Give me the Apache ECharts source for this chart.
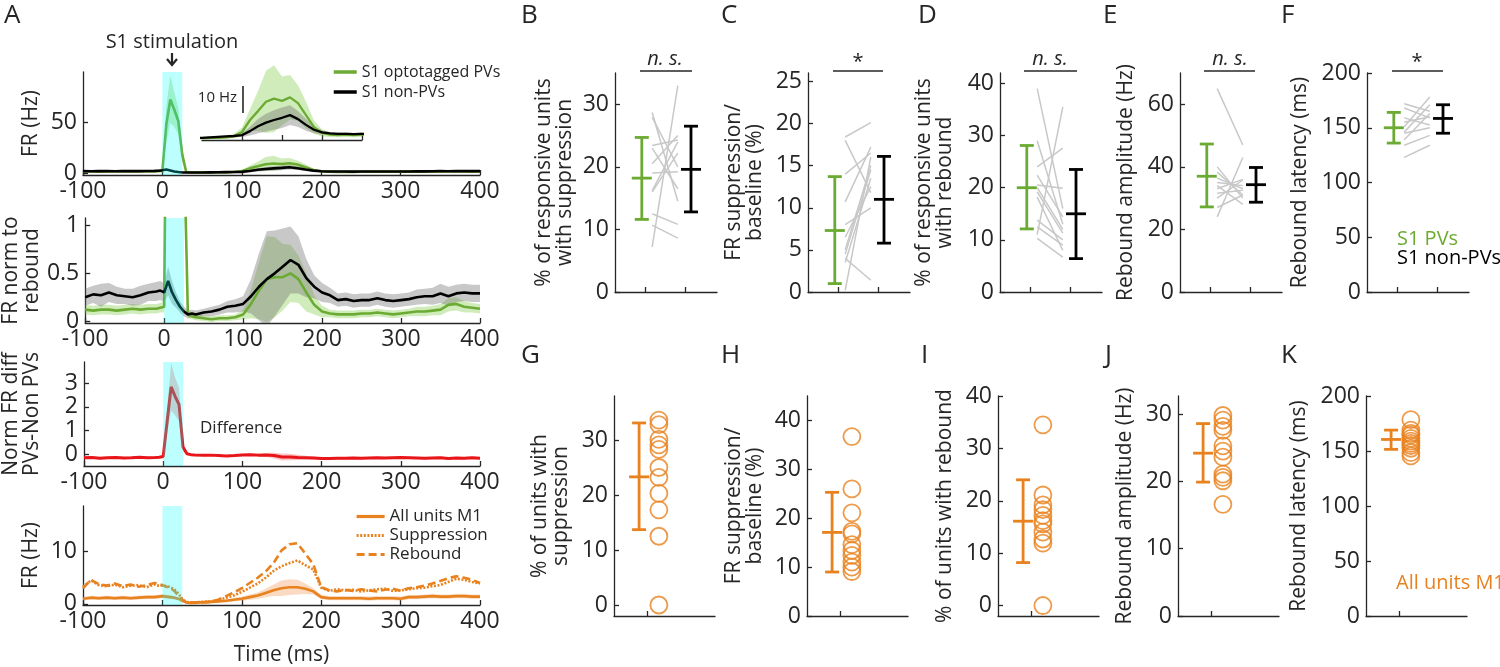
<!DOCTYPE html>
<html><head><meta charset="utf-8">
<script src="https://cdn.jsdelivr.net/npm/echarts@6/dist/echarts.min.js"></script>
<style>html,body{margin:0;padding:0;background:#fff}#c{width:1500px;height:667px}</style>
</head><body><div id="c"></div>
<script>
// ---------------- DATA ----------------
const T = [-100,-90,-80,-70,-60,-50,-40,-30,-20,-10,
  -5,0,5,10,15,20,25,30,35,
  40,50,60,70,80,90,100,110,120,130,140,150,160,170,180,190,200,210,220,230,240,250,260,270,280,290,300,310,320,330,340,350,360,370,380,390,400];
const STIM = [0, 25];

// A1: firing rate (Hz)
const pvFR = [1.4,1.5,1.3,1.6,1.5,1.4,1.6,1.5,1.7,1.6,
  1.8,2.0,48,72,62,51,18,1.0,0.5,
  0.4,0.4,0.5,0.5,0.6,0.9,1.8,4.5,6.5,8.6,9.3,8.8,9.6,8.3,5.6,2.9,1.6,
  1.2,1.1,1.2,1.1,1.2,1.3,1.2,1.3,1.2,1.3,1.4,1.3,1.2,1.3,1.4,1.5,1.6,1.4,1.3,1.4];
const pvFRsem = [0.5,0.5,0.5,0.5,0.5,0.5,0.5,0.5,0.5,0.5,
  0.6,0.8,18,23,17,13,7,0.5,0.3,
  0.3,0.3,0.3,0.3,0.3,0.5,1.0,2.5,4.5,7.0,7.5,5.5,5.0,4.0,3.0,1.5,0.8,
  0.5,0.5,0.5,0.5,0.5,0.5,0.5,0.5,0.5,0.5,0.5,0.5,0.5,0.5,0.5,0.5,0.5,0.5,0.5,0.5];
const npFR = [1.8,1.7,1.9,1.8,1.7,1.8,1.9,1.8,1.9,2.0,
  2.1,2.6,3.4,2.4,1.5,0.9,0.6,0.4,0.4,
  0.4,0.5,0.6,0.7,0.8,0.9,1.1,2.0,3.1,3.9,4.5,5.0,5.6,4.7,3.4,2.3,1.7,
  1.5,1.4,1.4,1.3,1.4,1.4,1.5,1.4,1.4,1.4,1.5,1.6,1.6,1.7,1.8,1.7,1.8,1.9,1.8,1.8];
const npFRsem = [0.3,0.3,0.3,0.3,0.3,0.3,0.3,0.3,0.3,0.3,
  0.3,0.4,0.6,0.5,0.3,0.2,0.2,0.1,0.1,
  0.1,0.1,0.1,0.2,0.2,0.2,0.4,1.0,1.6,2.0,2.2,2.3,2.2,1.8,1.3,0.8,0.5,
  0.3,0.3,0.3,0.3,0.3,0.3,0.3,0.3,0.3,0.3,0.3,0.3,0.3,0.3,0.3,0.3,0.3,0.3,0.3,0.3];

// A2: FR normalised to rebound
const pvNorm = [0.12,0.11,0.12,0.12,0.11,0.12,0.13,0.12,0.13,0.13,
  0.14,0.15,5.0,7.6,6.5,5.3,1.9,0.07,0.05,
  0.04,0.03,0.02,0.03,0.03,0.04,0.07,0.18,0.32,0.44,0.46,0.46,0.50,0.44,0.30,0.17,0.10,
  0.08,0.07,0.07,0.07,0.08,0.08,0.09,0.08,0.07,0.08,0.09,0.10,0.10,0.11,0.12,0.17,0.18,0.15,0.14,0.13];
const pvNormSem = [0.05,0.05,0.05,0.05,0.05,0.05,0.05,0.05,0.05,0.05,
  0.05,0.06,1.5,2.0,1.8,1.5,0.6,0.04,0.03,
  0.03,0.03,0.03,0.03,0.03,0.03,0.05,0.15,0.30,0.45,0.42,0.35,0.30,0.25,0.20,0.10,0.06,
  0.04,0.04,0.04,0.04,0.04,0.04,0.04,0.04,0.04,0.04,0.04,0.05,0.05,0.05,0.06,0.07,0.07,0.06,0.05,0.05];
const npNorm = [0.25,0.28,0.27,0.30,0.27,0.26,0.25,0.27,0.30,0.31,
  0.32,0.30,0.42,0.30,0.22,0.15,0.10,0.07,0.08,
  0.07,0.09,0.10,0.12,0.15,0.16,0.18,0.26,0.36,0.44,0.50,0.57,0.64,0.59,0.45,0.36,0.30,
  0.27,0.22,0.23,0.21,0.22,0.22,0.24,0.22,0.21,0.22,0.23,0.25,0.26,0.26,0.29,0.26,0.29,0.30,0.29,0.29];
const npNormSem = [0.09,0.09,0.12,0.10,0.09,0.08,0.09,0.10,0.09,0.10,
  0.10,0.10,0.15,0.12,0.08,0.06,0.05,0.04,0.04,
  0.04,0.04,0.05,0.05,0.06,0.07,0.08,0.18,0.35,0.50,0.45,0.40,0.35,0.30,0.20,0.12,0.10,
  0.08,0.07,0.07,0.07,0.07,0.07,0.07,0.07,0.07,0.07,0.07,0.08,0.08,0.09,0.10,0.10,0.09,0.09,0.09,0.09];

// A3: normalised difference PVs - non PVs
const diffNorm = [-0.15,-0.14,-0.17,-0.15,-0.14,-0.16,-0.15,-0.13,-0.15,-0.14,
  -0.13,-0.10,1.4,2.85,2.45,2.1,0.3,0.02,-0.02,
  -0.03,-0.04,-0.04,-0.06,-0.08,-0.06,-0.03,-0.02,-0.04,-0.03,-0.06,-0.12,-0.12,-0.14,-0.15,-0.16,-0.18,
  -0.18,-0.17,-0.17,-0.16,-0.17,-0.16,-0.15,-0.16,-0.15,-0.14,-0.15,-0.16,-0.17,-0.16,-0.15,-0.18,-0.16,-0.17,-0.15,-0.17];
const diffSem = [0.05,0.05,0.05,0.05,0.05,0.05,0.05,0.05,0.05,0.05,
  0.05,0.06,0.5,1.0,0.8,0.7,0.2,0.05,0.04,
  0.04,0.04,0.04,0.04,0.04,0.05,0.05,0.05,0.06,0.08,0.12,0.15,0.14,0.12,0.08,0.06,0.05,
  0.05,0.05,0.05,0.05,0.05,0.05,0.05,0.05,0.05,0.05,0.05,0.05,0.05,0.05,0.05,0.05,0.05,0.05,0.05,0.05];

// A4: M1 firing rates (Hz)
const m1All = [1.0,1.2,1.1,1.2,1.1,1.2,1.1,1.2,1.3,1.3,
  1.4,1.5,1.4,1.3,1.2,1.0,0.6,0.3,0.2,
  0.3,0.3,0.4,0.5,0.6,0.8,1.0,1.3,1.6,2.1,2.6,3.0,3.2,3.2,2.9,2.4,1.3,
  1.1,1.1,1.1,1.1,1.1,1.0,1.1,1.1,1.1,1.0,1.3,1.3,1.4,1.5,1.4,1.4,1.5,1.5,1.4,1.4];
const m1AllSem = [0.35,0.35,0.35,0.35,0.35,0.35,0.35,0.35,0.35,0.35,
  0.35,0.35,0.35,0.35,0.35,0.3,0.25,0.2,0.2,
  0.2,0.2,0.25,0.3,0.3,0.35,0.4,0.5,0.6,0.8,1.1,1.5,1.5,1.4,1.0,0.6,0.4,
  0.4,0.4,0.4,0.4,0.4,0.4,0.4,0.4,0.4,0.4,0.4,0.4,0.4,0.4,0.4,0.4,0.4,0.4,0.4,0.4];
const m1Supp = [3.3,4.5,3.6,3.4,3.7,3.2,3.5,3.6,3.2,3.7,
  3.5,3.5,3.4,3.2,2.8,2.0,1.0,0.4,0.3,
  0.3,0.4,0.5,0.7,1.2,1.6,2.3,3.1,3.9,5.0,6.3,7.2,7.8,8.3,7.4,6.6,3.1,
  2.5,2.8,2.6,2.7,2.4,2.6,2.8,2.9,2.5,2.6,2.8,3.0,3.1,3.4,3.6,4.2,4.8,4.6,4.2,3.9];
const m1Reb = [3.0,4.6,3.8,3.5,3.9,3.4,3.7,3.3,3.6,4.0,
  3.8,3.6,3.3,3.0,2.5,1.6,0.8,0.3,0.2,
  0.2,0.3,0.4,0.8,1.5,2.2,3.0,4.0,5.0,6.2,7.8,10.2,11.4,11.6,9.6,7.6,3.2,
  2.6,2.4,2.7,2.5,2.8,2.6,2.4,2.7,2.9,2.5,3.0,3.2,3.5,3.9,4.4,4.9,5.3,5.0,4.6,4.0];

// B–F: [mean, lower, upper] for S1 PVs and S1 non-PVs, plus per-animal pairs
const B_pv = [18.2, 11.6, 24.7], B_np = [19.6, 12.8, 26.5];
const B_left  = [7.2, 28.7, 27.9, 23.4, 20.5, 19.0, 16.0, 12.5, 10.7, 16.2, 23.0];
const B_right = [33.0, 14.5, 20.0, 24.3, 25.0, 19.2, 22.2, 10.8, 8.6, 24.0, 16.5];
const C_pv = [7.3, 1.0, 13.7], C_np = [11.0, 5.8, 16.1];
const C_left  = [18.4, 18.0, 14.0, 10.7, 5.0, 4.5, 3.5, 6.5, 0.2, 4.0, 8.0];
const C_right = [20.1, 11.8, 16.5, 17.2, 15.0, 14.5, 13.5, 12.5, 16.0, 1.4, 10.0];
const D_pv = [20.0, 12.1, 28.1], D_np = [15.0, 6.4, 23.5];
const D_left  = [39.0, 11.0, 29.0, 24.0, 22.4, 20.5, 19.2, 18.2, 13.8, 12.5, 10.3, 20.0];
const D_right = [16.0, 35.5, 13.0, 27.6, 14.4, 19.9, 11.3, 8.0, 10.0, 9.0, 6.7, 12.0];
const E_pv = [37.0, 27.2, 47.3], E_np = [34.3, 28.7, 39.8];
const E_left  = [65, 24, 40, 38.3, 36.4, 35, 34, 33, 31.6, 30, 27];
const E_right = [47, 43, 30, 31, 33, 34, 28, 36, 32.5, 35.8, 31];
const F_pv = [150, 136, 164], F_np = [158.5, 145, 171];
const F_left  = [123, 134, 139, 146, 151, 159, 168, 172, 155, 145];
const F_right = [134, 143, 163, 171, 178, 152.5, 159, 165, 160, 150];

// G–K: M1 all units [mean, lower, upper] and per-animal values
const G_err = [23.3, 13.7, 33.1];
const G_vals = [33.6, 32.8, 30.1, 29.1, 28.3, 25.0, 23.2, 20.3, 17.3, 12.5, 0];
const H_err = [17.1, 9.0, 25.3];
const H_vals = [36.7, 26.0, 21.1, 17.3, 16.8, 14.6, 13.4, 12.4, 11.0, 10.0, 9.1];
const I_err = [16.1, 8.2, 24.0];
const I_vals = [34.5, 21.1, 19.2, 18.3, 17.2, 16.2, 15.6, 14.0, 12.7, 11.9, 0];
const J_err = [24.2, 19.9, 28.6];
const J_vals = [29.8, 29.1, 28.2, 27.6, 25.3, 24.5, 23.6, 21.1, 20.6, 20.1, 16.6];
const K_err = [160.5, 151.5, 169];
const K_vals = [178.5, 169, 166, 164.5, 161.5, 159, 157, 155, 152.5, 148.5, 145.5];

// tick labels
const A_yTicks = [[0, 50], [0, 0.5, 1], [0, 1, 2, 3], [0, 10]];
const top_yTicks = [[0,10,20,30],[0,5,10,15,20,25],[0,10,20,30,40],[0,20,40,60],[0,50,100,150,200]];
const bot_yTicks = [[0,10,20,30],[0,10,20,30,40],[0,10,20,30,40],[0,10,20,30],[0,50,100,150,200]];

// ---------------- STYLE ----------------
const FONT = 'Open Sans';
const INK = '#262626';
const GREEN = '#6cab33', BLACK = '#000000', RED = '#e8161b', ORANGE = '#e8821e';
const GREEN_BAND = 'rgba(120,200,60,0.35)', GREY_BAND = 'rgba(110,110,110,0.38)';
const RED_BAND = 'rgba(240,70,70,0.30)', ORANGE_BAND = 'rgba(240,150,80,0.35)';
const CYAN = 'rgba(0,255,255,0.26)';
const PV_X = 0.92, NP_X = 2.15, PAIR_X0 = 1.18, PAIR_X1 = 1.82, ERR_X = 0.76, CIRC_X = 1.36;
const TICK_FS = 23;

const grids = [
  {left:83, top:72, width:397, height:103},
  {left:83, top:218, width:397, height:105},
  {left:83, top:362, width:397, height:104},
  {left:83, top:506, width:397, height:102},
  {left:202, top:60, width:160, height:80}
];
[615,808,1000,1180,1367].forEach(l => grids.push({left:l, top:73, width:102, height:219}));
[614,807,998,1178,1366].forEach(l => grids.push({left:l, top:396, width:101, height:220}));

const axLine = {show:true, onZero:false, lineStyle:{color:INK, width:1.3}};
const tick = vals => ({show:true, inside:true, length:5, lineStyle:{color:INK, width:1.3}, customValues: vals});
const lab = vals => ({show:true, fontFamily:FONT, fontSize:TICK_FS, color:INK, margin:6, customValues: vals});
const nameStyle = {fontFamily:FONT, fontSize:21, color:INK, lineHeight:21};

const xAxes = [], yAxes = [];
// A1..A4
const A_yRange = [[-2, 99], [-0.02, 1.08], [-0.5, 3.9], [-0.2, 18.7]];
const A_names = ['FR (Hz)', 'FR norm to\nrebound', 'Norm FR diff\nPVs-Non PVs', 'FR (Hz)'];
for (let i = 0; i < 4; i++) {
  xAxes.push({gridIndex:i, type:'value', min:-100, max:400, interval:100, axisLine:axLine,
    axisTick:{show:true, inside:true, length:5, lineStyle:{color:INK, width:1.3}},
    axisLabel:{show:true, fontFamily:FONT, fontSize:TICK_FS, color:INK, margin:5},
    splitLine:{show:false},
    name: i === 3 ? 'Time (ms)' : '', nameLocation:'middle', nameGap:40, nameTextStyle:nameStyle});
  yAxes.push({gridIndex:i, type:'value', min:A_yRange[i][0], max:A_yRange[i][1], axisLine:axLine,
    axisTick:tick(A_yTicks[i]), axisLabel:lab(A_yTicks[i]), splitLine:{show:false},
    name:A_names[i], nameLocation:'middle', nameRotate:90, nameGap:41, nameTextStyle:nameStyle});
}
// inset
xAxes.push({gridIndex:4, type:'value', min:50, max:250, axisLine:axLine,
  axisTick:{show:true, inside:true, length:5, lineStyle:{color:INK, width:1.3}, customValues:[100,150,200,250]},
  axisLabel:{show:false}, splitLine:{show:false}});
yAxes.push({gridIndex:4, type:'value', min:0, max:18, show:false});
// B..F
const top_yRange = [[0,35],[0,26],[0,42],[0,70],[0,200]];
const top_names = ['% of responsive units\nwith suppression','FR suppression/\nbaseline (%)','% of responsive units\nwith rebound','Rebound amplitude (Hz)','Rebound latency (ms)'];
const top_gaps = [39, 42, 44, 43, 56];
for (let i = 0; i < 5; i++) {
  xAxes.push({gridIndex:5+i, type:'value', min:0.25, max:2.8, axisLine:axLine, axisTick:tick([1,2]),
    axisLabel:{show:false}, splitLine:{show:false}});
  yAxes.push({gridIndex:5+i, type:'value', min:top_yRange[i][0], max:top_yRange[i][1], axisLine:axLine,
    axisTick:tick(top_yTicks[i]), axisLabel:lab(top_yTicks[i]), splitLine:{show:false},
    name:top_names[i], nameLocation:'middle', nameRotate:90, nameGap:top_gaps[i], nameTextStyle:nameStyle});
}
// G..K
const bot_yRange = [[-2,38],[0,45],[-2,40],[0,32.7],[0,200]];
const bot_names = ['% of units with\nsuppression','FR suppression/\nbaseline (%)','% of units with rebound','Rebound amplitude (Hz)','Rebound latency (ms)'];
const bot_gaps = [42, 41, 42, 42, 56];
for (let i = 0; i < 5; i++) {
  xAxes.push({gridIndex:10+i, type:'value', min:0, max:3.06, axisLine:axLine, axisTick:tick([1]),
    axisLabel:{show:false}, splitLine:{show:false}});
  yAxes.push({gridIndex:10+i, type:'value', min:bot_yRange[i][0], max:bot_yRange[i][1], axisLine:axLine,
    axisTick:tick(bot_yTicks[i]), axisLabel:lab(bot_yTicks[i]), splitLine:{show:false},
    name:bot_names[i], nameLocation:'middle', nameRotate:90, nameGap:bot_gaps[i], nameTextStyle:nameStyle});
}

// ---------------- SERIES ----------------
const series = [];
function band(gi, mean, sem, color, z) {
  const hi = mean.map((m, i) => m + sem[i]);
  const lo = mean.map((m, i) => m - sem[i]);
  series.push({type:'custom', xAxisIndex:gi, yAxisIndex:gi, clip:true, silent:true, z:z || 1,
    data:[[T[0], mean[0]]],
    renderItem:(params, api) => {
      const pts = [];
      for (let i = 0; i < T.length; i++) pts.push(api.coord([T[i], hi[i]]));
      for (let i = T.length - 1; i >= 0; i--) pts.push(api.coord([T[i], lo[i]]));
      return {type:'polygon', shape:{points:pts}, style:{fill:color}};
    }});
}
function line(gi, arr, color, name, width, dash) {
  series.push({type:'line', name:name, xAxisIndex:gi, yAxisIndex:gi, data:T.map((t, i) => [t, arr[i]]),
    symbol:'none', clip:true, silent:true, z:3,
    lineStyle:{color:color, width:width || 2.6, type:dash || 'solid', cap:'butt'}, itemStyle:{color:color}});
}
function stim(gi) {
  series.push({type:'custom', xAxisIndex:gi, yAxisIndex:gi, silent:true, z:10, data:[STIM],
    renderItem:(params, api) => {
      const cs = params.coordSys;
      const x0 = api.coord([STIM[0], 0])[0], x1 = api.coord([STIM[1], 0])[0];
      return {type:'rect', shape:{x:x0, y:cs.y, width:x1 - x0, height:cs.height}, style:{fill:CYAN}};
    }});
}
// A1
band(0, pvFR, pvFRsem, GREEN_BAND); band(0, npFR, npFRsem, GREY_BAND);
line(0, pvFR, GREEN, 'S1 optotagged PVs'); line(0, npFR, BLACK, 'S1 non-PVs'); stim(0);
// inset
band(4, pvFR, pvFRsem, GREEN_BAND); band(4, npFR, npFRsem, GREY_BAND);
line(4, pvFR, GREEN, 'S1 optotagged PVs', 2.3); line(4, npFR, BLACK, 'S1 non-PVs', 2.3);
// A2
band(1, pvNorm, pvNormSem, GREEN_BAND); band(1, npNorm, npNormSem, GREY_BAND);
line(1, pvNorm, GREEN, 'S1 optotagged PVs'); line(1, npNorm, BLACK, 'S1 non-PVs'); stim(1);
// A3
band(2, diffNorm, diffSem, RED_BAND); line(2, diffNorm, RED, 'Difference', 3); stim(2);
// A4
band(3, m1All, m1AllSem, ORANGE_BAND);
line(3, m1All, ORANGE, 'All units M1', 2.6);
line(3, m1Supp, ORANGE, 'Suppression', 2.6, [2, 1.6]);
line(3, m1Reb, ORANGE, 'Rebound', 2.6, [8, 4]);
stim(3);

function errbar(gi, x, e, color) {
  series.push({type:'custom', xAxisIndex:gi, yAxisIndex:gi, silent:true, z:5,
    data:[[x, e[0], e[1], e[2]]], encode:{x:0, y:[1,2,3]},
    renderItem:(params, api) => {
      const xv = api.value(0);
      const m = api.coord([xv, api.value(1)]), lo = api.coord([xv, api.value(2)]), hi = api.coord([xv, api.value(3)]);
      const cx = m[0], cap = 7, mb = 10, st = {stroke:color, lineWidth:2.8};
      return {type:'group', children:[
        {type:'line', shape:{x1:cx, y1:lo[1], x2:cx, y2:hi[1]}, style:st},
        {type:'line', shape:{x1:cx-cap, y1:lo[1], x2:cx+cap, y2:lo[1]}, style:st},
        {type:'line', shape:{x1:cx-cap, y1:hi[1], x2:cx+cap, y2:hi[1]}, style:st},
        {type:'line', shape:{x1:cx-mb, y1:m[1], x2:cx+mb, y2:m[1]}, style:st}]};
    }});
}
function pairs(gi, left, right) {
  series.push({type:'custom', xAxisIndex:gi, yAxisIndex:gi, silent:true, z:2,
    data:left.map((l, i) => [l, right[i]]), encode:{y:[0,1]},
    renderItem:(params, api) => {
      const p1 = api.coord([PAIR_X0, api.value(0)]), p2 = api.coord([PAIR_X1, api.value(1)]);
      return {type:'line', shape:{x1:p1[0], y1:p1[1], x2:p2[0], y2:p2[1]}, style:{stroke:'#c8c8c8', lineWidth:1.5}};
    }});
}
const topData = [[B_pv,B_np,B_left,B_right],[C_pv,C_np,C_left,C_right],[D_pv,D_np,D_left,D_right],[E_pv,E_np,E_left,E_right],[F_pv,F_np,F_left,F_right]];
topData.forEach((d, i) => { pairs(5+i, d[2], d[3]); errbar(5+i, PV_X, d[0], GREEN); errbar(5+i, NP_X, d[1], BLACK); });
const botData = [[G_err,G_vals],[H_err,H_vals],[I_err,I_vals],[J_err,J_vals],[K_err,K_vals]];
botData.forEach((d, i) => {
  errbar(10+i, ERR_X, d[0], ORANGE);
  series.push({type:'scatter', xAxisIndex:10+i, yAxisIndex:10+i, silent:true, z:4,
    data:d[1].map(v => [CIRC_X, v]), symbol:'circle', symbolSize:17,
    itemStyle:{color:'rgba(0,0,0,0)', borderColor:ORANGE, borderWidth:1.8}});
});

// ---------------- GRAPHIC (annotations) ----------------
const g = [];
function txt(x, y, s, o) {
  o = o || {};
  g.push({type:'text', x:x, y:y, silent:true, style:{text:s, fontFamily:FONT, fontSize:o.size || 20,
    fill:o.color || INK, align:o.align || 'left', verticalAlign:o.va || 'middle', fontStyle:o.italic ? 'italic' : 'normal'}});
}
function seg(x1, y1, x2, y2, w) {
  g.push({type:'line', silent:true, shape:{x1, y1, x2, y2}, style:{stroke:INK, lineWidth:w || 1.5}});
}
[['A',4],['B',521],['C',721],['D',918],['E',1103],['F',1281]].forEach(p => txt(p[1], 16, p[0], {size:26}));
[['G',521],['H',721],['I',921],['J',1105],['K',1281]].forEach(p => txt(p[1], 356, p[0], {size:26}));
txt(172, 42, 'S1 stimulation', {align:'center', size:20});
seg(172, 53, 172, 64, 2.2);
g.push({type:'polyline', silent:true, shape:{points:[[167,59],[172,65],[177,59]]}, style:{stroke:INK, lineWidth:2.2, fill:null}});
txt(237, 98, '10 Hz', {align:'right', size:15});
seg(243, 86, 243, 113, 1.6);
txt(200, 428, 'Difference', {size:17});
// significance
[[665,'n. s.',640,692,true],[858,'*',833,883,false],[1050,'n. s.',1024,1077,true],[1230,'n. s.',1204,1255,true],[1417,'*',1392,1443,false]]
  .forEach(s => { txt(s[0], s[4] ? 59 : 62, s[1], {align:'center', size:20, italic:s[4]}); seg(s[2], 71, s[3], 71, 1.5); });
txt(1397, 239, 'S1 PVs', {color:GREEN, size:20});
txt(1397, 258, 'S1 non-PVs', {color:BLACK, size:20});
txt(1396, 583, 'All units M1', {color:ORANGE, size:20});

const option = {
  animation:false,
  backgroundColor:'#ffffff',
  textStyle:{fontFamily:FONT},
  grid:grids,
  xAxis:xAxes,
  yAxis:yAxes,
  legend:[
    {data:['S1 optotagged PVs','S1 non-PVs'], left:327, top:59, orient:'vertical', itemWidth:23, itemHeight:12, itemGap:4,
      selectedMode:false, itemStyle:{opacity:0}, lineStyle:{width:3.5},
      textStyle:{fontFamily:FONT, fontSize:16, color:INK}},
    {data:['All units M1','Suppression','Rebound'], left:350, top:503, orient:'vertical', itemWidth:28, itemHeight:12, itemGap:2,
      selectedMode:false, itemStyle:{opacity:0}, lineStyle:{width:3.2},
      textStyle:{fontFamily:FONT, fontSize:17, color:INK}}
  ],
  series:series,
  graphic:g
};
const chart = echarts.init(document.getElementById('c'), null, {renderer:'canvas'});
chart.setOption(option);
</script></body></html>
